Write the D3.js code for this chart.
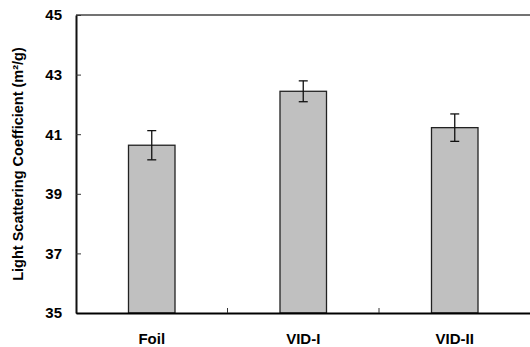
<!DOCTYPE html>
<html>
<head>
<meta charset="utf-8">
<script src="https://cdn.jsdelivr.net/npm/d3@7"></script>
<style>
  body { margin: 0; background: #fff; }
  text { font-family: Arial, "Liberation Sans", sans-serif; font-weight: bold; fill: #000; }
</style>
</head>
<body>
<div id="chart"></div>
<script>
const categories = ["Foil", "VID-I", "VID-II"];
const means = [40.63, 42.44, 41.22];
const errors = [0.49, 0.35, 0.46];
const yTicks = [35, 37, 39, 41, 43, 45];

const W = 530, H = 347;
const margin = {top: 15, right: 0, bottom: 34, left: 76};

const svg = d3.select("#chart")
  .append("svg")
    .attr("width", W)
    .attr("height", H);

const x = d3.scaleBand()
  .domain(categories)
  .range([margin.left, W + 0.5])
  .padding(0);

const y = d3.scaleLinear()
  .domain([35, 45])
  .range([H - margin.bottom, margin.top]);

const barW = x.bandwidth() * 0.307;

// bars
svg.selectAll("rect.bar")
  .data(categories)
  .enter()
  .append("rect")
    .attr("class", "bar")
    .attr("x", d => x(d) + x.bandwidth() / 2 - barW / 2)
    .attr("y", (d, i) => y(means[i]))
    .attr("width", barW)
    .attr("height", (d, i) => y(35) - y(means[i]))
    .attr("fill", "#c0c0c0")
    .attr("stroke", "#222")
    .attr("stroke-width", 1.3);

// error bars
const eb = svg.selectAll("g.err")
  .data(categories)
  .enter()
  .append("g")
    .attr("class", "err")
    .attr("stroke", "#111")
    .attr("stroke-width", 1.3);
eb.append("line")
  .attr("x1", d => x(d) + x.bandwidth() / 2)
  .attr("x2", d => x(d) + x.bandwidth() / 2)
  .attr("y1", (d, i) => y(means[i] + errors[i]))
  .attr("y2", (d, i) => y(means[i] - errors[i]));
eb.append("line")
  .attr("x1", d => x(d) + x.bandwidth() / 2 - 4.5)
  .attr("x2", d => x(d) + x.bandwidth() / 2 + 4.5)
  .attr("y1", (d, i) => y(means[i] + errors[i]))
  .attr("y2", (d, i) => y(means[i] + errors[i]));
eb.append("line")
  .attr("x1", d => x(d) + x.bandwidth() / 2 - 4.5)
  .attr("x2", d => x(d) + x.bandwidth() / 2 + 4.5)
  .attr("y1", (d, i) => y(means[i] - errors[i]))
  .attr("y2", (d, i) => y(means[i] - errors[i]));

// top frame line
svg.append("line")
  .attr("x1", margin.left)
  .attr("x2", W)
  .attr("y1", y(45))
  .attr("y2", y(45))
  .attr("stroke", "#444")
  .attr("stroke-width", 1.6);

// y axis
const yAxis = svg.append("g")
  .attr("transform", `translate(${margin.left},0)`)
  .call(d3.axisLeft(y).tickValues(yTicks).tickSizeInner(-5).tickSizeOuter(0).tickPadding(14).tickFormat(d3.format("d")));
yAxis.select(".domain").attr("stroke", "#111").attr("stroke-width", 2);
yAxis.selectAll(".tick line").attr("stroke", "#333").attr("stroke-width", 1);
yAxis.selectAll(".tick text")
  .attr("font-size", 15)
  .attr("font-family", "Arial, 'Liberation Sans', sans-serif")
  .attr("font-weight", "bold")
  .attr("fill", "#000");

// x axis
const xAxis = svg.append("g")
  .attr("transform", `translate(0,${y(35)})`)
  .call(d3.axisBottom(x).tickSize(0).tickPadding(20));
xAxis.select(".domain").attr("stroke", "#000").attr("stroke-width", 2);
xAxis.selectAll(".tick text")
  .attr("font-size", 15)
  .attr("font-family", "Arial, 'Liberation Sans', sans-serif")
  .attr("font-weight", "bold")
  .attr("fill", "#000");

// category boundary ticks
svg.selectAll("line.sep")
  .data(categories.slice(0, -1))
  .enter()
  .append("line")
    .attr("class", "sep")
    .attr("x1", d => x(d) + x.bandwidth())
    .attr("x2", d => x(d) + x.bandwidth())
    .attr("y1", y(35))
    .attr("y2", y(35) - 5)
    .attr("stroke", "#333")
    .attr("stroke-width", 1);

// y title
svg.append("text")
  .attr("transform", `translate(23,${(y(35) + y(45)) / 2}) rotate(-90)`)
  .attr("text-anchor", "middle")
  .attr("font-size", 14.5)
  .text("Light Scattering Coefficient (m²/g)");
</script>
</body>
</html>
